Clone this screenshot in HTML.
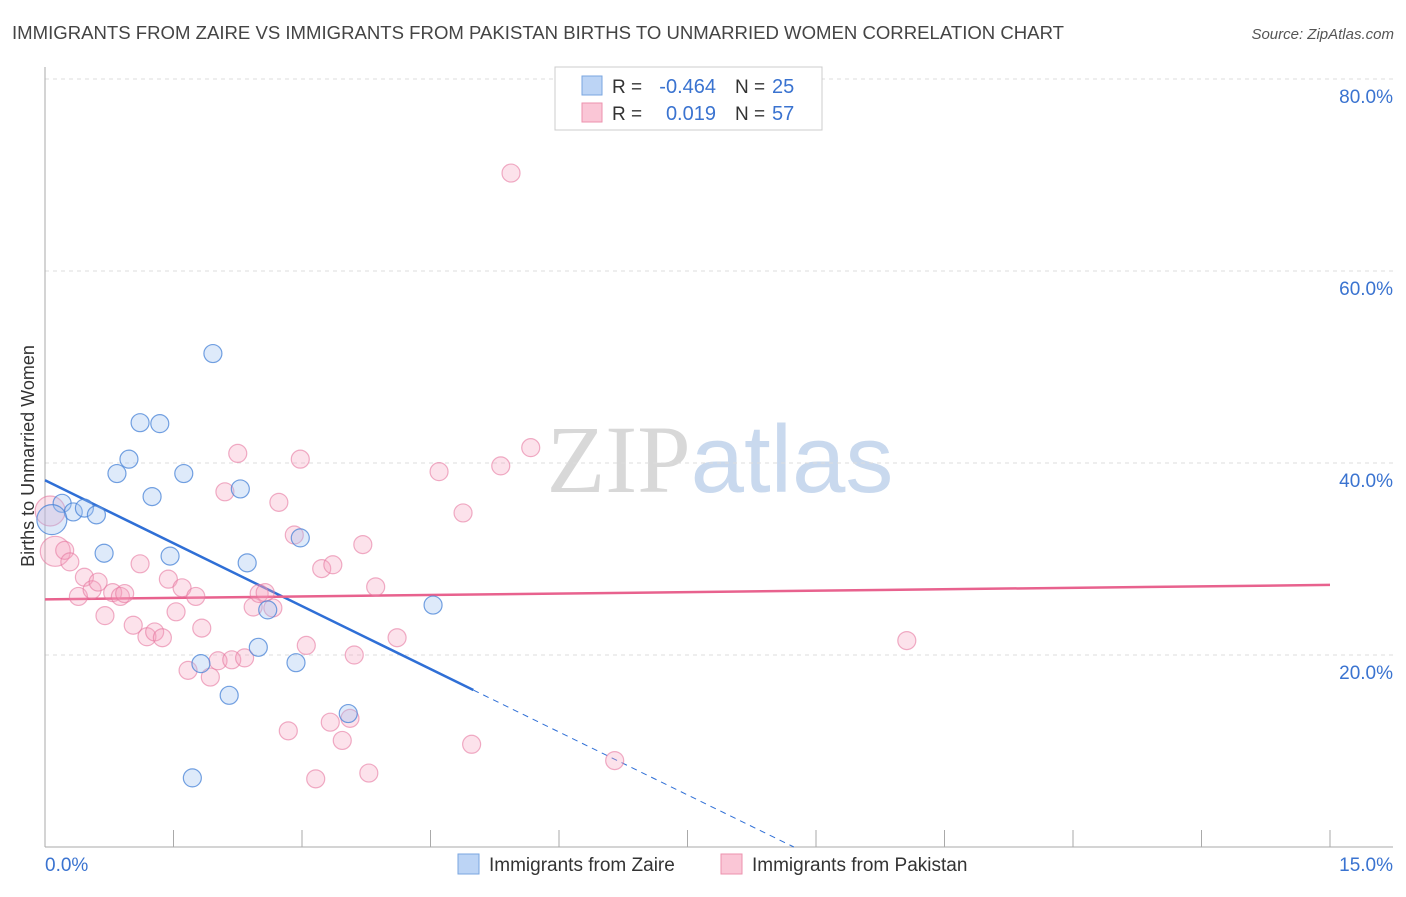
<!DOCTYPE html>
<html><head><meta charset="utf-8"><style>
body{margin:0;background:#fff;font-family:"Liberation Sans",sans-serif;}
svg text{font-family:"Liberation Sans",sans-serif;}
</style></head><body>
<svg id="chart" width="1406" height="892" xmlns="http://www.w3.org/2000/svg">
<text x="12" y="39" font-size="18" fill="#444" textLength="1052" lengthAdjust="spacingAndGlyphs">IMMIGRANTS FROM ZAIRE VS IMMIGRANTS FROM PAKISTAN BIRTHS TO UNMARRIED WOMEN CORRELATION CHART</text>
<text x="1394" y="39" font-size="15" fill="#555" text-anchor="end" font-style="italic">Source: ZipAtlas.com</text>
<text x="720" y="492" font-size="96" text-anchor="middle"><tspan fill="#d8d8d8" font-family="Liberation Serif">ZIP</tspan><tspan fill="#c9d9ee">atlas</tspan></text>
<text transform="translate(34,456) rotate(-90)" font-size="18" fill="#333" text-anchor="middle">Births to Unmarried Women</text>
<g id="grid"></g><g id="axes"></g><g id="lines"></g><g id="pts"></g>
<g>
<rect x="555" y="67" width="267" height="63" fill="#fff" stroke="#ccc"/>
<rect x="582" y="76" width="20" height="19" fill="#bcd4f5" stroke="#7aa6e0"/>
<rect x="582" y="103" width="20" height="19" fill="#fac6d6" stroke="#ec92ae"/>
<text x="612" y="93" font-size="19" fill="#333">R =</text>
<text x="716" y="93" font-size="20" fill="#3a73d0" text-anchor="end">-0.464</text>
<text x="735" y="93" font-size="19" fill="#333">N =</text>
<text x="772" y="93" font-size="20" fill="#3a73d0">25</text>
<text x="612" y="120" font-size="19" fill="#333">R =</text>
<text x="716" y="120" font-size="20" fill="#3a73d0" text-anchor="end">0.019</text>
<text x="735" y="120" font-size="19" fill="#333">N =</text>
<text x="772" y="120" font-size="20" fill="#3a73d0">57</text>
</g>
<g>
<rect x="458" y="854" width="21" height="20" fill="#bcd4f5" stroke="#7aa6e0"/>
<text x="489" y="871" font-size="19" fill="#333">Immigrants from Zaire</text>
<rect x="721" y="854" width="21" height="20" fill="#fac6d6" stroke="#ec92ae"/>
<text x="752" y="871" font-size="19" fill="#333">Immigrants from Pakistan</text>
</g>
</svg>
<script>
const yTicks=[20,40,60,80];
const xTickLabels=["0.0%","15.0%"];
const zaireX=[0.20,0.33,0.46,0.60,0.08,0.69,0.84,0.98,1.11,1.25,1.34,1.46,1.62,1.96,1.82,2.15,1.72,2.28,2.36,2.49,2.60,2.93,2.98,3.54,4.53];
const zaireY=[35.8,34.9,35.3,34.6,34.1,30.6,38.9,40.4,44.2,36.5,44.1,30.3,38.9,51.4,19.1,15.8,7.2,37.3,29.6,20.8,24.7,19.2,32.2,13.9,25.2];
const pakX=[0.12,0.23,0.29,0.46,0.39,0.55,0.62,0.70,0.79,0.88,0.93,1.03,1.11,1.19,1.28,1.37,1.44,1.53,1.60,1.67,1.76,1.83,1.93,2.02,2.10,2.18,2.25,2.33,2.43,2.50,2.57,2.66,2.73,2.84,2.91,2.98,3.05,3.16,3.23,3.33,3.36,3.47,3.56,3.61,3.71,3.78,3.86,4.11,4.60,4.88,4.98,5.32,5.44,5.67,6.65,10.06,0.06];
const pakY=[30.8,30.9,29.7,28.1,26.1,26.8,27.6,24.1,26.5,26.1,26.4,23.1,29.5,21.9,22.4,21.8,27.9,24.5,27.0,18.4,26.1,22.8,17.7,19.4,37.0,19.5,41.0,19.7,25.0,26.4,26.5,24.9,35.9,12.1,32.5,40.4,21.0,7.1,29.0,13.0,29.4,11.1,13.4,20.0,31.5,7.7,27.1,21.8,39.1,34.8,10.7,39.7,70.2,41.6,9.0,21.5,35.0];
const zaireFit=[38.2,-4.37];
const pakFit=[25.8,0.1];
const NS="http://www.w3.org/2000/svg";
const sx=v=>45+v*(1285/15), sy=v=>847-v*9.6;
function mk(tag,attrs,parent){const e=document.createElementNS(NS,tag);for(const k in attrs)e.setAttribute(k,attrs[k]);document.getElementById(parent).appendChild(e);return e;}
yTicks.forEach(t=>{
 const g=mk('line',{x1:45,x2:1393,y1:sy(t),y2:sy(t),stroke:'#ddd','stroke-dasharray':'4,4'},'grid');
 
 
 const tx=mk('text',{x:1393,y:sy(t)+24,'font-size':19,fill:'#3a73d0','text-anchor':'end'},'grid');
 tx.textContent=t.toFixed(1)+'%';
 
 
});
const ax=mk('line',{x1:45,x2:45,y1:67,y2:847,stroke:'#aaa'},'axes');


const bx=mk('line',{x1:45,x2:1393,y1:847,y2:847,stroke:'#aaa'},'axes');


for(let i=0;i<=10;i++){const t=mk('line',{x1:sx(i*1.5),x2:sx(i*1.5),y1:830,y2:847,stroke:'#aaa'},'axes');
 
 }
[[0,'start',45],[15,'end',1393]].forEach((d,i)=>{const t=mk('text',{x:d[2],y:871,'font-size':19,fill:'#3a73d0','text-anchor':d[1]},'axes');t.textContent=xTickLabels[i];
 
 });
const xe=5.0, xz=-zaireFit[0]/zaireFit[1];
const l1=mk('line',{x1:sx(0),y1:sy(zaireFit[0]),x2:sx(xe),y2:sy(zaireFit[0]+zaireFit[1]*xe),stroke:'#2f6fd6','stroke-width':2.5},'lines');


const l2=mk('line',{x1:sx(xe),y1:sy(zaireFit[0]+zaireFit[1]*xe),x2:sx(xz),y2:sy(0),stroke:'#2f6fd6','stroke-width':1,'stroke-dasharray':'6,5'},'lines');


const l3=mk('line',{x1:sx(0),y1:sy(pakFit[0]),x2:sx(15),y2:sy(pakFit[0]+pakFit[1]*15),stroke:'#e8628e','stroke-width':2.5},'lines');


pakX.forEach((x,i)=>{const c=mk('circle',{cx:sx(x),cy:sy(pakY[i]),r:(i==0||i==56)?15:9,fill:'rgba(245,160,190,0.3)',stroke:'rgba(230,120,160,0.6)','stroke-width':1.2},'pts');
 
 });
zaireX.forEach((x,i)=>{const c=mk('circle',{cx:sx(x),cy:sy(zaireY[i]),r:i==4?15:9,fill:'rgba(160,195,240,0.35)',stroke:'rgba(70,130,215,0.75)','stroke-width':1.2},'pts');
 
 });
</script>
</body></html>
